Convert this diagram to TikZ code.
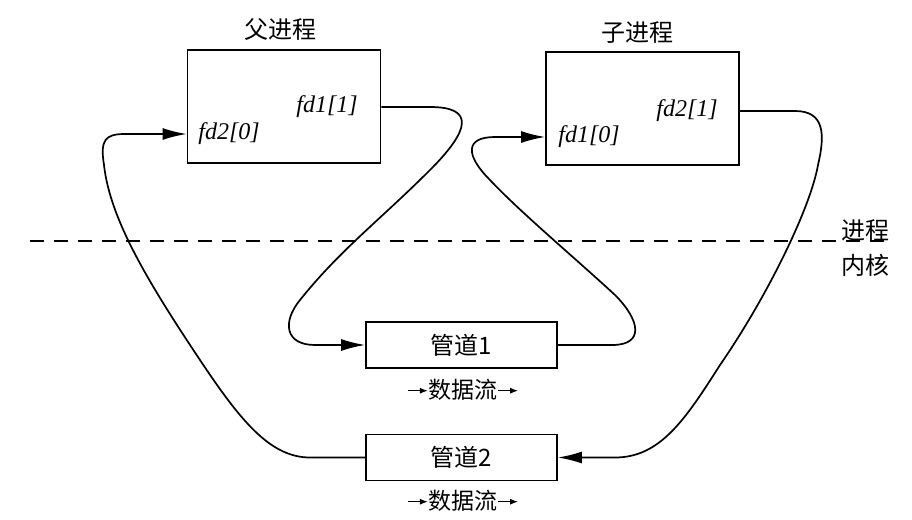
\documentclass[tikz,border=0pt]{standalone}
\usepackage{fontspec}
\setmainfont{Liberation Serif}
\newfontfamily\cjk{Noto Sans CJK SC}
\usetikzlibrary{arrows.meta,calc}
\newcommand{\flowarr}{\tikz[baseline={(0pt,-8pt)},x=1pt,y=1pt]\draw[line width=1.2pt,-{Latex[length=8pt,width=6pt]}] (0,0) -- (20,0);}
\begin{document}
\begin{tikzpicture}[x=1pt,y=-1pt,
  procbox/.style={draw,line width=1.7pt,minimum width=193pt,minimum height=113pt,inner sep=0pt},
  pipebox/.style={draw,line width=1.7pt,minimum width=191pt,minimum height=46pt,inner sep=0pt,font=\cjk\fontsize{24}{26}\selectfont},
  fdlabel/.style={font=\itshape\fontsize{24}{26}\selectfont,inner sep=0pt},
  cjklabel/.style={font=\cjk\fontsize{24}{26}\selectfont,inner sep=0pt},
  flowlab/.style={font=\cjk\fontsize{23}{25}\selectfont,inner sep=0pt},
  flow/.style={line width=1.7pt},
  tip/.style={-{Latex[length=24pt,width=12pt]}}
]
\useasboundingbox (0,0) rectangle (912,519);

% process boxes
\node[procbox] (P) at (284,106.5) {};
\node[procbox] (C) at (642.5,108.5) {};
\node[cjklabel] (Pt) at (280,29) {父进程};
\node[cjklabel] (Ct) at (637,33) {子进程};

\node[fdlabel] (pA) at (327,107) {fd1[1]};
\node[fdlabel] (pB) at (229,134) {fd2[0]};
\node[fdlabel] (cA) at (687,111) {fd2[1]};
\node[fdlabel] (cB) at (589,137) {fd1[0]};

% pipes
\node[pipebox] (Q1) at (461.5,345) {管道1};
\node[pipebox] (Q2) at (461.5,457.5) {管道2};
\node[flowlab] (F1) at (463,390) {\flowarr 数据流\flowarr};
\node[flowlab] (F2) at (463,501) {\flowarr 数据流\flowarr};

% dashed separator
\coordinate (L) at (30,241);
\coordinate (R) at (893,241);
\draw[line width=1.4pt,dash pattern=on 14pt off 10pt] (L) -- (R);
\node[cjklabel] (up) at (865,231) {进程};
\node[cjklabel] (dn) at (865,265) {内核};

% connectors
\draw[flow,tip] (P.east |- pA) -- (430,107)
  .. controls (475,107) and (470,130) .. (430,170)
  .. controls (380,220) and (340,250) .. (300,300)
  .. controls (282,322) and (285,345) .. (315,345) -- (Q1.west);

\draw[flow,tip] (Q1.east) -- (612,345)
  .. controls (645,345) and (640,320) .. (615,295)
  .. controls (575,258) and (520,212) .. (490,180)
  .. controls (465,155) and (465,137) .. (495,137) -- (C.west |- cB);

\draw[flow,tip] (C.east |- cA) -- (795,111)
  .. controls (825,111) and (825,135) .. (818,165)
  .. controls (810,210) and (765,300) .. (720,365)
  .. controls (685,420) and (660,457.5) .. (615,457.5) -- (Q2.east);

\draw[flow,tip] (Q2.west) -- (310,457.5)
  .. controls (270,457.5) and (240,420) .. (200,360)
  .. controls (150,285) and (110,220) .. (104,165)
  .. controls (100,140) and (105,134) .. (125,134) -- (P.west |- pB);
\end{tikzpicture}
\end{document}
